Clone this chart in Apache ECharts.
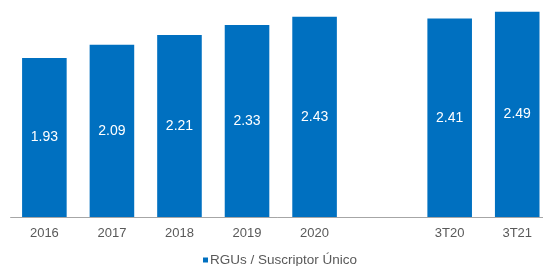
<!DOCTYPE html>
<html>
<head>
<meta charset="utf-8">
<script src="https://cdn.jsdelivr.net/npm/echarts@6/dist/echarts.min.js"></script>
<style>
  html, body { margin: 0; padding: 0; background: #fff; }
  #chart { width: 543px; height: 266px; }
</style>
</head>
<body>
<div id="chart"></div>
<script>
// categories (empty slot keeps the gap between years and quarters)
var categories = ["2016", "2017", "2018", "2019", "2020", "", "3T20", "3T21"];
var rguValues = [1.93, 2.09, 2.21, 2.33, 2.43, null, 2.41, 2.49];
var seriesName = "RGUs / Suscriptor Único";

var chart = echarts.init(document.getElementById("chart"));
chart.setOption({
  animation: false,
  textStyle: { fontFamily: "Liberation Sans, Arial, sans-serif" },
  grid: { left: 10.6, right: -8, top: 11, bottom: 49, outerBoundsMode: "none" },
  xAxis: {
    type: "category",
    data: categories,
    axisLine: { lineStyle: { color: "#a6a6a6", width: 1 } },
    axisTick: { show: false },
    axisLabel: { color: "#595959", fontSize: 13, margin: 10 }
  },
  yAxis: {
    type: "value",
    min: 0,
    max: 2.5,
    show: false,
    splitLine: { show: false }
  },
  legend: {
    data: [seriesName],
    left: 198,
    top: 248,
    icon: "rect",
    itemWidth: 5,
    itemHeight: 5,
    textStyle: { color: "#595959", fontSize: 13.5, padding: [0, 0, 0, -3] }
  },
  series: [
    {
      name: seriesName,
      type: "bar",
      data: rguValues,
      barCategoryGap: "34%",
      itemStyle: { color: "#0070c0" },
      label: {
        show: true,
        position: "inside",
        color: "#ffffff",
        fontSize: 14,
        formatter: function (p) { return p.value.toFixed(2); }
      }
    }
  ]
});
</script>
</body>
</html>
